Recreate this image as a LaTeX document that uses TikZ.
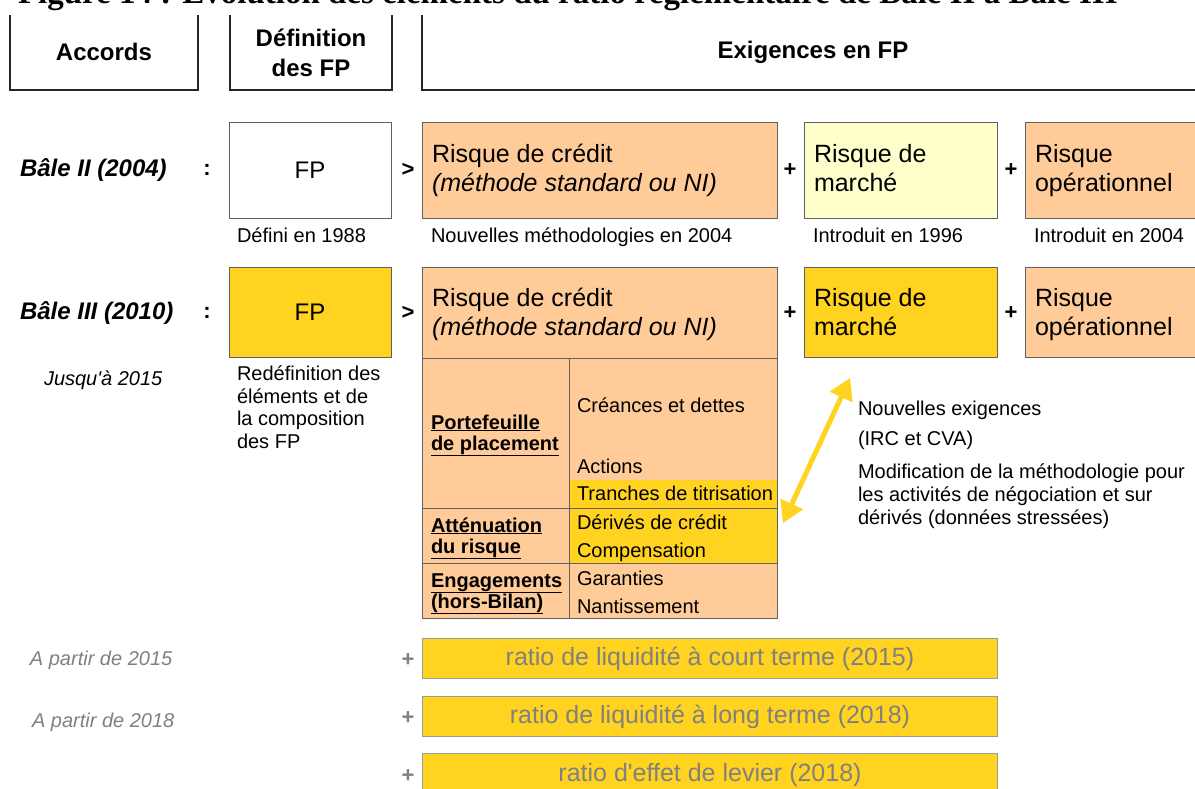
\documentclass[tikz,border=0pt]{standalone}
\usepackage{fontspec}
\setmainfont{Liberation Sans}
\newfontfamily\titlefont{Liberation Serif}
\usetikzlibrary{arrows.meta}
\definecolor{peach}{HTML}{FFCC99}
\definecolor{gold}{HTML}{FFD320}
\definecolor{lightyel}{HTML}{FFFFCC}
\definecolor{bordergray}{HTML}{606060}
\definecolor{bargray}{HTML}{9A9A9A}
\definecolor{txtgray}{HTML}{808080}
\begin{document}
\begin{tikzpicture}[x=1pt,y=-1pt,
  every node/.style={inner sep=0pt,outer sep=0pt},
  boxst/.style={draw=bordergray,line width=0.8pt,anchor=north west},
  hdrline/.style={draw=black!85,line width=1.2pt},
  hdrtxt/.style={font=\bfseries\fontsize{24}{30}\selectfont,align=center},
  lbl/.style={font=\bfseries\itshape\fontsize{24}{28}\selectfont,anchor=west},
  opst/.style={font=\bfseries\fontsize{22}{22}\selectfont},
  boxtxt/.style={font=\fontsize{25}{29}\selectfont,anchor=base west},
  fptxt/.style={font=\fontsize{24}{28}\selectfont},
  captxt/.style={font=\fontsize{20}{22}\selectfont,anchor=base west},
  boldtxt/.style={font=\bfseries\fontsize{20}{22}\selectfont,anchor=base west},
  bartxt/.style={font=\fontsize{25}{28}\selectfont,text=txtgray},
  barbox/.style={draw=bargray,line width=0.8pt,fill=gold,anchor=north west,minimum width=575,minimum height=40},
  yarrow/.style={draw=gold,line width=5pt,{Triangle[length=21pt,width=24pt]}-{Triangle[length=21pt,width=24pt]}}
]
\useasboundingbox (0,0) rectangle (1195,789);
% title (cut off at the top edge, as in the reference)
\begin{scope}
\clip (0,0) rectangle (1195,14);
\node[anchor=base west,font=\titlefont\bfseries\fontsize{33}{34}\selectfont] (title) at (18,4) {Figure 14 : Évolution des éléments du ratio réglementaire de Bâle II à Bâle III};
\end{scope}
% headers
\draw[hdrline] (10,15) -- (10,90) -- (198,90) -- (198,15);
\draw[hdrline] (230,15) -- (230,90) -- (392,90) -- (392,15);
\draw[hdrline] (422,15) -- (422,90) -- (1195,90);
\node[hdrtxt] (hA) at (104,52) {Accords};
\node[hdrtxt] (hD) at (311,53) {Définition\\des FP};
\node[hdrtxt] (hE) at (813,52) {Exigences en FP};
% row 1
\node[lbl] (b2) at (20,170) {Bâle II (2004)};
\node[opst] (c1) at (207,170) {:};
\node[boxst,fill=white,minimum width=162,minimum height=96] (fp1) at (229,122) {};
\node[fptxt] (fp1t) at (fp1.center) {FP};
\node[opst] (g1) at (408,170) {>};
\node[boxst,fill=peach,minimum width=355,minimum height=96] (rc1) at (422,122) {};
\node[boxtxt] (rc1a) at (432,163) {Risque de crédit};
\node[boxtxt,font=\itshape\fontsize{25}{29}\selectfont] (rc1b) at (432,192) {(méthode standard ou NI)};
\node[opst] (p1) at (790,170) {+};
\node[boxst,fill=lightyel,minimum width=193,minimum height=96] (rm1) at (804,122) {};
\node[boxtxt] (rm1a) at (814,163) {Risque de};
\node[boxtxt] (rm1b) at (814,192) {marché};
\node[opst] (p2) at (1011,170) {+};
\node[boxst,fill=peach,minimum width=180,minimum height=96] (ro1) at (1025,122) {};
\node[boxtxt] (ro1a) at (1035,163) {Risque};
\node[boxtxt] (ro1b) at (1035,192) {opérationnel};
\node[captxt] (k1) at (237,242) {Défini en 1988};
\node[captxt] (k2) at (431,242) {Nouvelles méthodologies en 2004};
\node[captxt] (k3) at (813,242) {Introduit en 1996};
\node[captxt] (k4) at (1034,242) {Introduit en 2004};
% row 2
\node[lbl] (b3) at (20,313) {Bâle III (2010)};
\node[opst] (c2) at (207,313) {:};
\node[boxst,fill=gold,minimum width=162,minimum height=90] (fp2) at (229,267) {};
\node[fptxt] (fp2t) at (fp2.center) {FP};
\node[opst] (g2) at (408,313) {>};
\node[boxst,fill=peach,minimum width=355,minimum height=91] (rc2) at (422,267) {};
\node[boxtxt] (rc2a) at (432,306) {Risque de crédit};
\node[boxtxt,font=\itshape\fontsize{25}{29}\selectfont] (rc2b) at (432,335) {(méthode standard ou NI)};
\node[opst] (p3) at (790,313) {+};
\node[boxst,fill=gold,minimum width=193,minimum height=90] (rm2) at (804,267) {};
\node[boxtxt] (rm2a) at (814,306) {Risque de};
\node[boxtxt] (rm2b) at (814,335) {marché};
\node[opst] (p4) at (1011,313) {+};
\node[boxst,fill=peach,minimum width=180,minimum height=90] (ro2) at (1025,267) {};
\node[boxtxt] (ro2a) at (1035,306) {Risque};
\node[boxtxt] (ro2b) at (1035,335) {opérationnel};
\node[captxt,font=\itshape\fontsize{20}{22}\selectfont] (ju) at (44,385) {Jusqu\textquotesingle à 2015};
\node[captxt] (r1) at (237,380) {Redéfinition des};
\node[captxt] (r2) at (237,403) {éléments et de};
\node[captxt] (r3) at (237,425) {la composition};
\node[captxt] (r4) at (237,448) {des FP};
% table
\fill[peach] (422,358) rectangle (777,618);
\fill[gold] (569,480) rectangle (777,563);
\draw[bordergray,line width=0.8pt] (422,358) rectangle (777,618);
\draw[bordergray,line width=0.8pt] (422,508) -- (777,508) (422,563) -- (777,563) (569,358) -- (569,618);
\node[boxst,minimum width=355,minimum height=260,draw=none] (tab) at (422,358) {};
\node[captxt] (t1) at (577,412) {Créances et dettes};
\node[captxt] (t2) at (577,473) {Actions};
\node[captxt] (t3) at (577,500) {Tranches de titrisation};
\node[captxt] (t4) at (577,529) {Dérivés de crédit};
\node[captxt] (t5) at (577,557) {Compensation};
\node[captxt] (t6) at (577,585) {Garanties};
\node[captxt] (t7) at (577,613) {Nantissement};
\node[boldtxt] (l1) at (431,429) {\underline{Portefeuille}};
\node[boldtxt] (l2) at (431,450) {\underline{de placement}};
\node[boldtxt] (l3) at (431,532) {\underline{Atténuation}};
\node[boldtxt] (l4) at (431,553) {\underline{du risque}};
\node[boldtxt] (l5) at (431,587) {\underline{Engagements}};
\node[boldtxt] (l6) at (431,608) {\underline{(hors-Bilan)}};
% arrow and notes
\coordinate (aTop) at (850,378);
\coordinate (aBot) at (783,523);
\draw[yarrow] (aBot) -- (aTop);
\node[captxt] (n1) at (858,415) {Nouvelles exigences};
\node[captxt] (n2) at (858,445) {(IRC et CVA)};
\node[captxt] (n3) at (858,478) {Modification de la méthodologie pour};
\node[captxt] (n4) at (858,501) {les activités de négociation et sur};
\node[captxt] (n5) at (858,524) {dérivés (données stressées)};
% bottom
\node[captxt,font=\itshape\fontsize{20}{22}\selectfont,text=txtgray,anchor=west] (ap1) at (30,660) {A partir de 2015};
\node[captxt,font=\itshape\fontsize{20}{22}\selectfont,text=txtgray,anchor=west] (ap2) at (32,722) {A partir de 2018};
\node[opst,text=txtgray] (q1) at (408,660) {+};
\node[opst,text=txtgray] (q2) at (408,718) {+};
\node[opst,text=txtgray] (q3) at (408,776) {+};
\node[barbox] (bar1) at (422,638) {};
\node[barbox] (bar2) at (422,696) {};
\node[barbox,minimum height=45] (bar3) at (422,753) {};
\node[bartxt] (bt1) at (710,659) {ratio de liquidité à court terme (2015)};
\node[bartxt] (bt2) at (710,717) {ratio de liquidité à long terme (2018)};
\node[bartxt] (bt3) at (710,775) {ratio d\textquotesingle effet de levier (2018)};
\end{tikzpicture}
\end{document}
